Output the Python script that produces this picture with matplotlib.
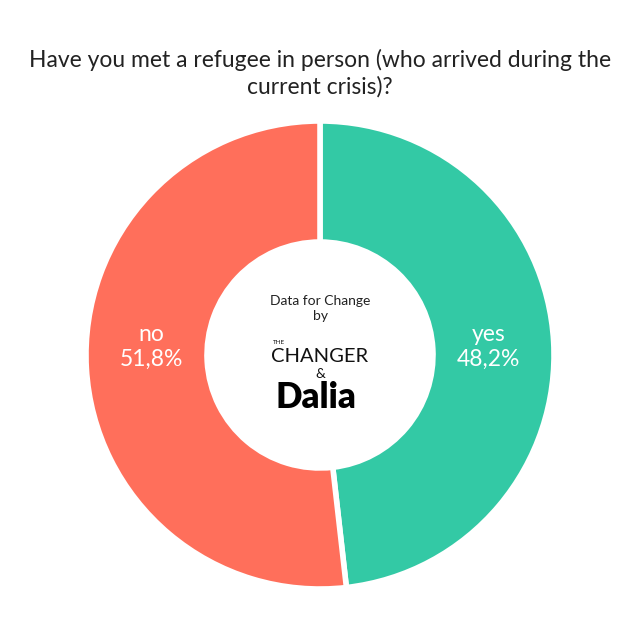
import matplotlib
matplotlib.use("Agg")
import matplotlib.pyplot as plt
import numpy as np

categories = ["yes", "no"]
values = [48.2, 51.8]
colors = ["#33C9A5", "#FF6F5B"]
title = "Have you met a refugee in person (who arrived during the\ncurrent crisis)?"

plt.rcParams['font.family'] = ['Lato', 'DejaVu Sans']

fig = plt.figure(figsize=(6.4, 6.4), dpi=100)
ax = fig.add_axes([0, 0, 1, 1])

cx, cy, R, r_in = 320, 285, 234, 113
wedges, _ = ax.pie(values, colors=colors, startangle=90, counterclock=False,
                   radius=R, center=(cx, cy), frame=True,
                   wedgeprops=dict(width=R - r_in, edgecolor='white', linewidth=4))
ax.set_xlim(0, 640)
ax.set_ylim(0, 640)
ax.set_aspect('equal')
ax.axis('off')

start = 90.0
for cat, v in zip(categories, values):
    mid = start - v / 100 * 360 / 2
    start -= v / 100 * 360
    r = (R + r_in) / 2
    side = np.sign(np.cos(np.radians(mid)))
    x = cx + side * (r - 5)
    y = cy + 8
    ax.text(x, y,
            f"{cat}\n{str(v).replace('.', ',')}%", color='white',
            fontsize=16.5, ha='center', va='center', linespacing=1.25)

ax.text(320, 640 - 73, title, ha='center', va='center',
        fontsize=16.5, color='#222222', linespacing=1.3)

ax.text(cx, 640 - 301, "Data for Change", ha='center', va='center', fontsize=10, color='#222222')
ax.text(cx, 640 - 316, "by", ha='center', va='center', fontsize=10, color='#222222')
ax.text(cx - 47, 640 - 343, "THE", ha='left', va='center', fontsize=4.5, color='#111111')
ax.text(cx, 640 - 357, "CHANGER", ha='center', va='center', fontsize=14.5, color='#111111')
ax.text(cx, 640 - 374, "&", ha='center', va='center', fontsize=10, color='#111111')
ax.text(cx - 4, 640 - 398, "Dalia", ha='center', va='center', fontsize=25, fontweight='heavy', color='#000000')

fig.savefig("out.png", dpi=100, facecolor='white')
